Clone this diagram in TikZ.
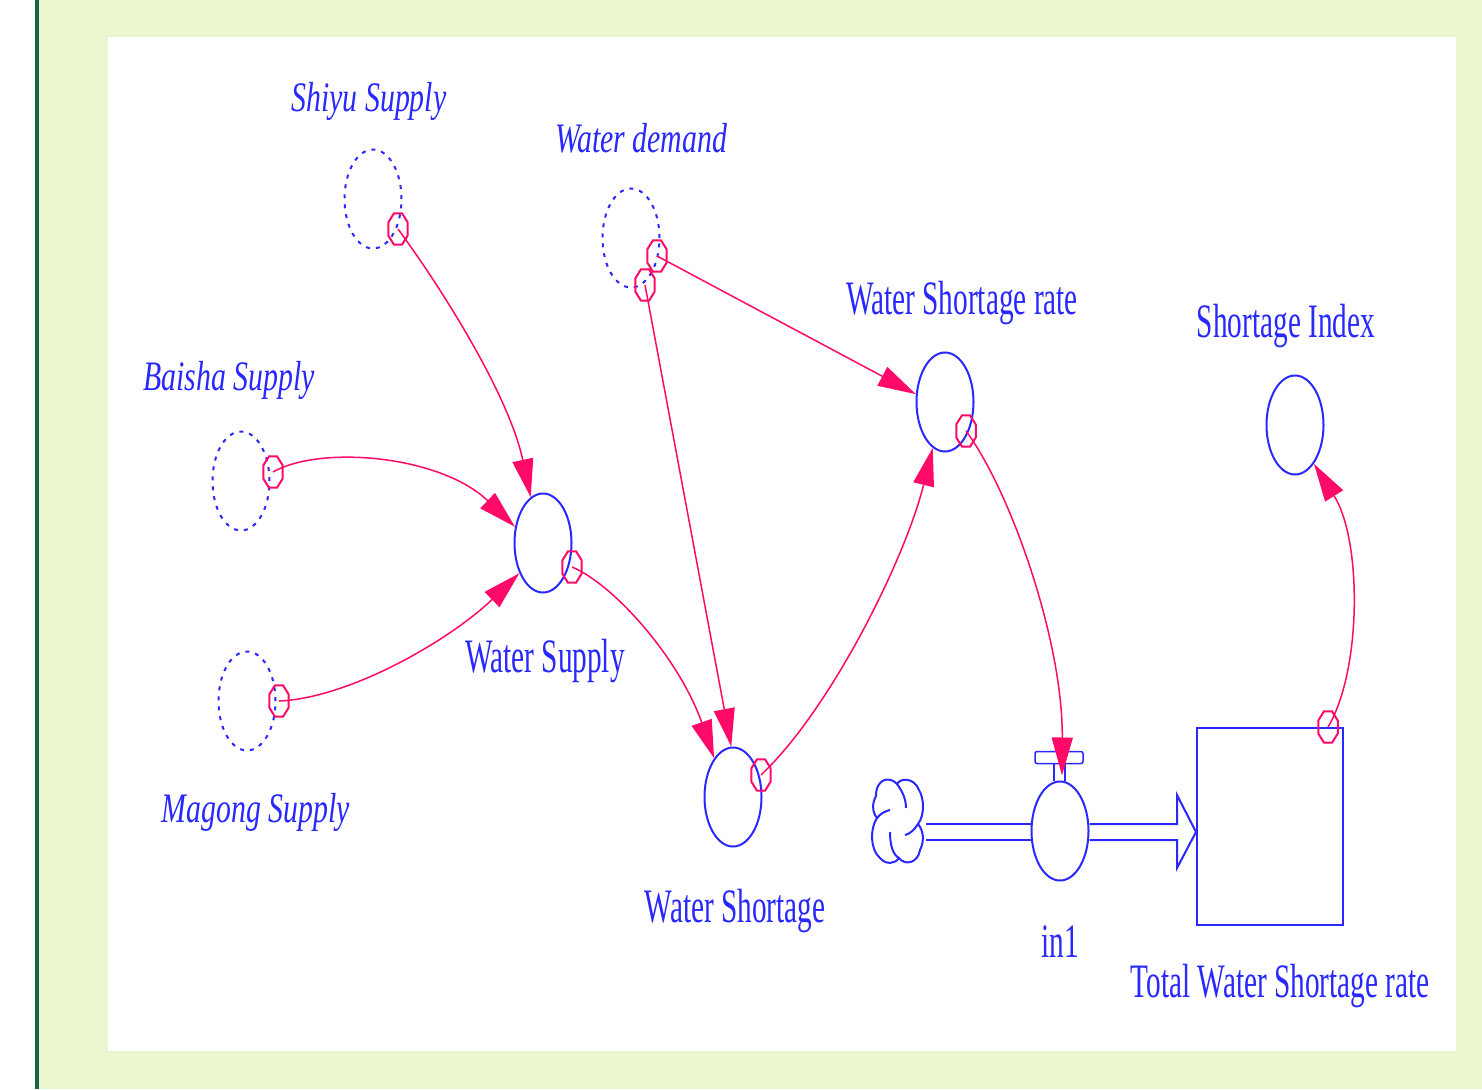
\documentclass[tikz,border=0pt]{standalone}
\usepackage{fontspec}
\setmainfont{Liberation Serif}
\newfontfamily\uplbl[FakeStretch=0.61]{Liberation Serif}
\newfontfamily\itlbl[FakeStretch=0.71]{Liberation Serif}
\usetikzlibrary{arrows.meta,shapes.geometric,calc}
\definecolor{vblue}{RGB}{40,40,255}
\definecolor{vpink}{RGB}{255,10,105}
\definecolor{bggreen}{RGB}{234,246,208}
\definecolor{dgreen}{RGB}{20,100,70}
\begin{document}
\begin{tikzpicture}[x=1pt,y=-1pt,
  aux/.style={ellipse,draw=vblue,line width=2pt,minimum width=57pt,minimum height=99pt,inner sep=0pt},
  shadowvar/.style={aux,dash pattern=on 4pt off 6pt},
  octo/.style={regular polygon,regular polygon sides=8,draw=vpink,line width=2pt,minimum size=34pt,inner sep=0pt,xscale=0.62,transform shape},
  link/.style={draw=vpink,line width=1.5pt,-{Triangle[length=38pt,width=21pt]}},
  itl/.style={text=vblue,font=\itlbl\itshape\fontsize{42}{44}\selectfont,anchor=base,inner sep=0pt},
  upl/.style={text=vblue,font=\uplbl\fontsize{48}{50}\selectfont,anchor=base,inner sep=0pt},
  pipe/.style={draw=vblue,line width=2pt},
  cloudline/.style={draw=vblue,line width=2pt},
]
\useasboundingbox (0,0) rectangle (1482,1089);
\fill[white] (0,0) rectangle (1482,1089);
\fill[bggreen] (38,0) rectangle (1482,1089);
\fill[dgreen] (35,0) rectangle (38.5,1089);
\fill[white] (108,37) rectangle (1456,1051);

% variables
\node[shadowvar] (shiyu) at (373,199) {};
\node[shadowvar] (demand) at (631,238) {};
\node[shadowvar] (baisha) at (241,481) {};
\node[shadowvar] (magong) at (247,701) {};
\node[aux] (supply) at (543,543) {};
\node[aux] (short) at (733,797) {};
\node[aux] (rate) at (945,402) {};
\node[aux] (index) at (1295,425) {};
\node[aux] (in1) at (1060,831) {};
\node[draw=vblue,line width=2pt,minimum width=146pt,minimum height=197pt,inner sep=0pt] (stock) at (1270,826.5) {};

% labels
\node[itl] (lshiyu) at (369,112) {Shiyu Supply};
\node[itl] (ldemand) at (641,152) {Water demand};
\node[itl] (lbaisha) at (229,390) {Baisha Supply};
\node[itl] (lmagong) at (256,822) {Magong Supply};
\node[upl] (lsupply) at (545,672) {Water Supply};
\node[upl] (lshort) at (735,922) {Water Shortage};
\node[upl] (lrate) at (962,314) {Water Shortage rate};
\node[upl] (lindex) at (1286,337) {Shortage Index};
\node[upl] (lin1) at (1060,957) {in1};
\node[upl] (lstock) at (1280,997) {Total Water Shortage rate};

% cloud (source)
\coordinate (cloudc) at (898,822);
\begin{scope}[shift={(cloudc)}]
\draw[cloudline,fill=white] (-1,-38) .. controls (-8,-46) and (-22,-44) .. (-22,-26)
  .. controls (-26,-19) and (-26,-10) .. (-21,-4)
  .. controls (-28,6) and (-28,28) .. (-18,36)
  .. controls (-12,43) and (-3,42) .. (1,36)
  .. controls (7,44) and (20,41) .. (22,28)
  .. controls (27,18) and (25,8) .. (20,2)
  .. controls (27,-7) and (26,-24) .. (21,-32)
  .. controls (16,-45) and (2,-44) .. (-1,-38) -- cycle;
\draw[cloudline] (-1,-38) .. controls (5,-30) and (8,-22) .. (8,-14);
\draw[cloudline] (-21,-4) .. controls (-18,-8) and (-13,-11) .. (-8,-12);
\draw[cloudline] (20,2) .. controls (16,8) and (12,12) .. (7,13);
\draw[cloudline] (-8,10) .. controls (-8,23) and (-5,33) .. (1,36);
\end{scope}

% flow pipe
\draw[pipe] ($(cloudc)+(28,2)$) -- ($(in1.west)+(0,-7)$);
\draw[pipe] ($(cloudc)+(28,18)$) -- ($(in1.west)+(0,9)$);
\draw[pipe] ($(in1.east)+(0,-7)$) -- ($(stock.west)+(-19,-2.5)$) -- ($(stock.west)+(-19,-31.5)$)
  -- ($(stock.west)+(0,5.5)$) -- ($(stock.west)+(-19,41.5)$) -- ($(stock.west)+(-19,13.5)$) -- ($(in1.east)+(0,9)$);
% valve handle
\draw[pipe,line width=1.5pt] ($(in1.north)+(-6,0)$) -- ($(in1.north)+(-6,-17)$);
\draw[pipe,line width=1.5pt] ($(in1.north)+(5,0)$) -- ($(in1.north)+(5,-17)$);
\draw[pipe,line width=1.5pt,fill=white,rounded corners=2pt] ($(in1.north)+(-25,-17)$) rectangle ($(in1.north)+(23,-29)$);

% octagons (link origins)
\node[octo] (o1) at (398,229) {};
\node[octo] (o2) at (273,472) {};
\node[octo] (o3) at (279,701) {};
\node[octo] (o4) at (572,567) {};
\node[octo] (o5) at (645,285) {};
\node[octo] (o6) at (657,256) {};
\node[octo] (o7) at (761,775) {};
\node[octo] (o8) at (966,431) {};
\node[octo] (o9) at (1328,727) {};

% links
\draw[link] (o1.center) .. controls (450,300) and (510,400) .. (supply.105);
\draw[link] (o2.center) .. controls (320,445) and (440,455) .. (supply.150);
\draw[link] (o3.center) .. controls (350,698) and (450,640) .. (supply.232);
\draw[link] (o4.center) .. controls (615,585) and (680,660) .. (short.116);
\draw[link] (o5.center) -- (short.92);
\draw[link] (o6.center) -- (rate.165);
\draw[link] (o7.center) .. controls (830,710) and (905,560) .. (rate.255);
\draw[link] (o8.center) .. controls (1010,490) and (1063,640) .. ($(in1.north)+(2,-5)$);
\draw[link] (o9.center) .. controls (1362,670) and (1362,540) .. (index.-64);
\end{tikzpicture}
\end{document}
